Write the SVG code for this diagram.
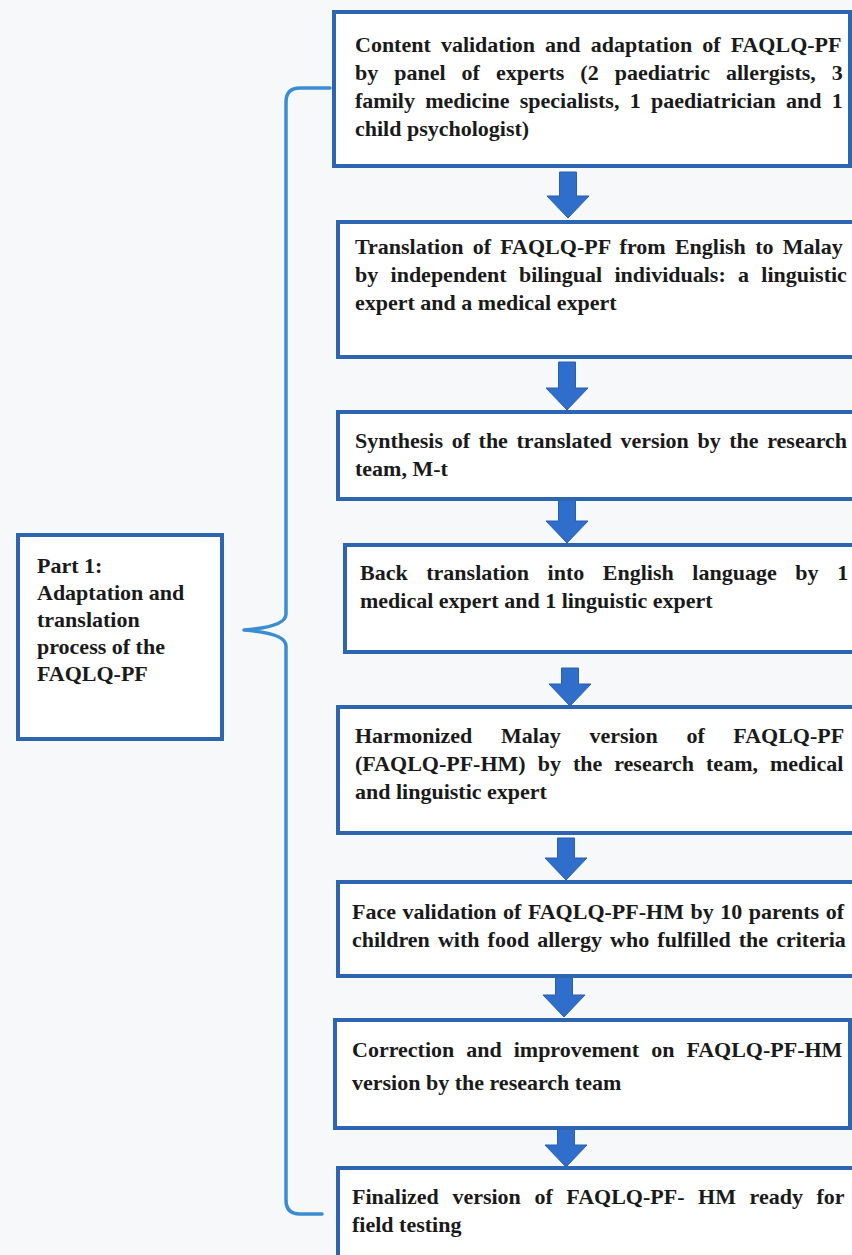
<svg xmlns="http://www.w3.org/2000/svg" width="852" height="1255" viewBox="0 0 852 1255">
<style>
.bg{fill:#f7f8fa}
.box{fill:#ffffff;stroke:#2e65b0;stroke-width:4}
.t{font-family:"Liberation Serif","Times New Roman",serif;font-size:22px;font-weight:bold;fill:#1a1a1a}
.arr{fill:#2f6fcb;stroke:#2a5fae;stroke-width:1}
.brace{fill:none;stroke:#3a8dd0;stroke-width:3.5;stroke-linecap:round;stroke-linejoin:round}
</style>
<rect class="bg" x="0" y="0" width="852" height="1255"/>
<g id="connectors">
<path class="brace" d="M330 88 L300 88 Q286 88 286 102 L286 614 Q286 627 244 630 Q286 633 286 646 L286 1200 Q286 1214 300 1214 L322 1214"/>
<path class="arr" d="M559.5 172 L576.5 172 L576.5 196 L589 196 L568 218 L547 196 L559.5 196 Z"/>
<path class="arr" d="M558.5 362 L575.5 362 L575.5 388 L588 388 L567 410 L546 388 L558.5 388 Z"/>
<path class="arr" d="M558.5 500 L575.5 500 L575.5 521 L588 521 L567 543 L546 521 L558.5 521 Z"/>
<path class="arr" d="M561.5 668 L578.5 668 L578.5 684 L591 684 L570 706 L549 684 L561.5 684 Z"/>
<path class="arr" d="M557.5 838 L574.5 838 L574.5 858 L587 858 L566 880 L545 858 L557.5 858 Z"/>
<path class="arr" d="M555.5 977 L572.5 977 L572.5 995 L585 995 L564 1017 L543 995 L555.5 995 Z"/>
<path class="arr" d="M557.5 1128 L574.5 1128 L574.5 1145 L587 1145 L566 1167 L545 1145 L557.5 1145 Z"/>
</g>
<g id="part1">
<rect class="box" x="18" y="535" width="204" height="204"/>
<text class="t" x="37" y="573">Part 1:</text>
<text class="t" x="37" y="600">Adaptation and</text>
<text class="t" x="37" y="627">translation</text>
<text class="t" x="37" y="654">process of the</text>
<text class="t" x="37" y="681">FAQLQ-PF</text>
</g>
<g id="step1">
<rect class="box" x="334" y="12" width="516" height="154"/>
<text class="t" x="355" y="52" style="word-spacing:4.6px">Content validation and adaptation of FAQLQ-PF</text>
<text class="t" x="355" y="80" style="word-spacing:10.5px">by panel of experts (2 paediatric allergists, 3</text>
<text class="t" x="355" y="108" style="word-spacing:4.8px">family medicine specialists, 1 paediatrician and 1</text>
<text class="t" x="355" y="136">child psychologist)</text>
</g>
<g id="step2">
<rect class="box" x="338" y="222" width="530" height="135"/>
<text class="t" x="355" y="254" style="word-spacing:3.8px">Translation of FAQLQ-PF from English to Malay</text>
<text class="t" x="355" y="282" style="word-spacing:6.8px">by independent bilingual individuals: a linguistic</text>
<text class="t" x="355" y="310">expert and a medical expert</text>
</g>
<g id="step3">
<rect class="box" x="338" y="412" width="530" height="87"/>
<text class="t" x="355" y="448" style="word-spacing:3.1px">Synthesis of the translated version by the research</text>
<text class="t" x="355" y="476">team, M-t</text>
</g>
<g id="step4">
<rect class="box" x="345" y="545" width="530" height="107"/>
<text class="t" x="360" y="580" style="word-spacing:13.1px">Back translation into English language by 1</text>
<text class="t" x="360" y="608">medical expert and 1 linguistic expert</text>
</g>
<g id="step5">
<rect class="box" x="338" y="707" width="530" height="126"/>
<text class="t" x="355" y="743" style="word-spacing:23.1px">Harmonized Malay version of FAQLQ-PF</text>
<text class="t" x="355" y="771" style="word-spacing:6.5px">(FAQLQ-PF-HM) by the research team, medical</text>
<text class="t" x="355" y="799">and linguistic expert</text>
</g>
<g id="step6">
<rect class="box" x="338" y="882" width="530" height="94"/>
<text class="t" x="352" y="919" style="word-spacing:1px">Face validation of FAQLQ-PF-HM by 10 parents of</text>
<text class="t" x="352" y="947" style="word-spacing:2.6px">children with food allergy who fulfilled the criteria</text>
</g>
<g id="step7">
<rect class="box" x="335" y="1020" width="515" height="108"/>
<text class="t" x="352" y="1057" style="word-spacing:6.5px">Correction and improvement on FAQLQ-PF-HM</text>
<text class="t" x="352" y="1090">version by the research team</text>
</g>
<g id="step8">
<rect class="box" x="338" y="1168" width="530" height="100"/>
<text class="t" x="352" y="1204" style="word-spacing:8.1px">Finalized version of FAQLQ-PF- HM ready for</text>
<text class="t" x="352" y="1232">field testing</text>
</g>
</svg>
